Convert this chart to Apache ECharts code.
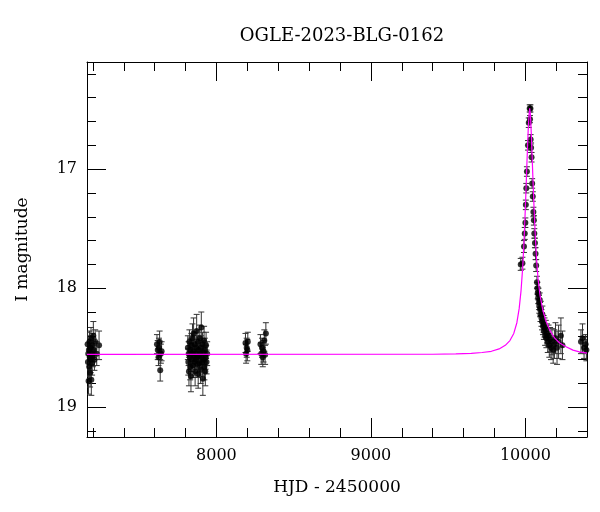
<!DOCTYPE html>
<html>
<head>
<meta charset="utf-8">
<script src="https://cdn.jsdelivr.net/npm/echarts@6/dist/echarts.min.js"></script>
<style>html,body{margin:0;padding:0;background:#fff;}#c{width:600px;height:512px;}</style>
</head>
<body>
<div id="c"></div>
<script>
// ---- Data ----
const obsHjd = [
  7166,7168,7170,7172,7174,7176,7178,7180,7182,7184,7186,7188,7190,7192,7195,7198,7200,7203,7206,7210,7215,7225,7240,
  7615,7620,7625,7628,7632,7636,7640,7645,
  7815,7818,7820,7822,7825,7828,7830,7832,7835,7838,7840,7843,7845,7848,7850,7852,7855,7858,7860,7862,7865,7868,7870,7872,7875,7878,7880,7882,7885,7888,7890,7892,7895,7898,7900,7902,7905,7908,7910,7912,7915,7918,7920,7922,7925,7928,7930,7933,7936,7940,
  8188,8192,8196,8200,8203,
  8285,8290,8295,8300,8305,8310,8315,8320,
  9970,9981,9991,9996,10000,10003,10006,10010,10017,10022,10028,10033,10030,10034,10037,10040,10044,10048,10052,10055,10058,10062,10066,10070,
  10075,10078,10080,10083,10085,10088,10090,10093,10095,10098,10100,10104,10108,10110,10114,10118,10120,10124,10128,10132,10136,10140,10145,10150,10155,10160,10166,10172,10180,10188,10195,10205,10215,10230,10240,
  10360,10370,10380,10390,10395
];
const obsMag = [
  18.47,18.62,18.55,18.78,18.52,18.66,18.45,18.58,18.71,18.50,18.60,18.42,18.77,18.55,18.63,18.48,18.57,18.40,18.52,18.60,18.45,18.55,18.48,
  18.47,18.52,18.58,18.50,18.45,18.69,18.55,18.53,
  18.50,18.62,18.55,18.70,18.45,18.58,18.66,18.52,18.74,18.48,18.60,18.55,18.42,18.65,18.53,18.38,18.57,18.62,18.47,18.70,18.55,18.60,18.50,18.36,18.58,18.64,18.45,18.72,18.52,18.57,18.63,18.42,18.55,18.68,18.50,18.33,18.58,18.62,18.47,18.76,18.54,18.60,18.44,18.66,18.52,18.70,18.58,18.48,18.62,18.55,
  18.46,18.55,18.50,18.52,18.45,
  18.47,18.55,18.50,18.58,18.53,18.44,18.56,18.38,
  17.80,17.79,17.65,17.54,17.45,17.30,17.16,17.02,16.80,16.61,16.49,16.49,16.58,16.75,16.82,16.90,17.12,17.23,17.36,17.43,17.54,17.62,17.71,17.81,
  17.95,18.00,18.04,18.08,18.05,18.12,18.15,18.10,18.18,18.22,18.17,18.25,18.28,18.22,18.32,18.30,18.36,18.33,18.40,18.35,18.42,18.38,18.45,18.40,18.48,18.43,18.50,18.45,18.52,18.47,18.42,18.50,18.45,18.40,18.48,
  18.45,18.42,18.50,18.47,18.52
];
const obsErr = [
  0.10,0.12,0.10,0.11,0.09,0.10,0.09,0.10,0.12,0.10,0.11,0.09,0.13,0.10,0.10,0.10,0.09,0.12,0.10,0.09,0.10,0.10,0.12,
  0.08,0.08,0.07,0.08,0.09,0.09,0.08,0.08,
  0.10,0.11,0.10,0.12,0.10,0.10,0.11,0.10,0.13,0.10,0.10,0.11,0.12,0.10,0.10,0.13,0.10,0.11,0.10,0.12,0.10,0.11,0.10,0.14,0.10,0.11,0.10,0.12,0.10,0.10,0.11,0.11,0.10,0.12,0.10,0.13,0.10,0.11,0.10,0.14,0.10,0.11,0.12,0.11,0.10,0.12,0.10,0.11,0.10,0.10,
  0.08,0.08,0.08,0.09,0.08,
  0.08,0.09,0.08,0.08,0.09,0.09,0.08,0.09,
  0.05,0.05,0.05,0.05,0.04,0.04,0.04,0.04,0.04,0.04,0.03,0.03,0.03,0.04,0.04,0.04,0.04,0.04,0.04,0.04,0.04,0.04,0.05,0.05,
  0.05,0.05,0.05,0.05,0.05,0.06,0.06,0.06,0.06,0.06,0.06,0.07,0.07,0.07,0.07,0.07,0.07,0.08,0.08,0.08,0.08,0.08,0.09,0.09,0.10,0.10,0.10,0.11,0.11,0.12,0.13,0.14,0.14,0.15,0.12,
  0.10,0.12,0.09,0.08,0.09
];
const modelHjd = [7162,9400,9550,9650,9720,9780,9830,9870,9900,9925,9945,9960,9972,9983,9993,10002,10010,10018,10024,10028,10032,10037,10043,10049,10056,10064,10072,10082,10095,10114,10135,10157,10190,10222,10260,10308,10350,10399];
const modelMag = [18.556,18.555,18.552,18.547,18.54,18.53,18.51,18.48,18.44,18.38,18.29,18.17,18.02,17.82,17.56,17.25,16.95,16.68,16.54,16.49,16.53,16.66,16.87,17.08,17.32,17.56,17.75,17.92,18.06,18.19,18.28,18.35,18.42,18.46,18.49,18.52,18.535,18.545];

const xMajor = [8000, 9000, 10000];
const xMinor = [7200,7400,7600,7800,8200,8400,8600,8800,9200,9400,9600,9800,10200];
const yMajor = [17, 18, 19];
const yMinor = [16.2,16.4,16.6,16.8,17.2,17.4,17.6,17.8,18.2,18.4,18.6,18.8,19.2];

const X_MIN = 7162, X_MAX = 10399, Y_MIN = 16.1, Y_MAX = 19.25;
const FONT = 'DejaVu Serif';

const obs = obsHjd.map((x, i) => [x, obsMag[i], obsErr[i]]);
const model = modelHjd.map((x, i) => [x, modelMag[i]]);

function xAx(pos, ticks, len, showLine, showLabel, extra) {
  return Object.assign({
    type: 'value', position: pos, min: X_MIN, max: X_MAX, gridIndex: 0,
    axisLine: { show: showLine, onZero: false, lineStyle: { color: '#000', width: 1 } },
    axisTick: { show: true, inside: true, length: len, customValues: ticks, lineStyle: { color: '#000', width: 1 } },
    axisLabel: { show: showLabel, customValues: ticks, formatter: v => String(v), color: '#000', fontFamily: FONT, fontSize: 16, margin: 11 },
    splitLine: { show: false }
  }, extra || {});
}
function yAx(pos, ticks, len, showLine, showLabel, extra) {
  return Object.assign({
    type: 'value', position: pos, min: Y_MIN, max: Y_MAX, inverse: true, gridIndex: 0,
    axisLine: { show: showLine, onZero: false, lineStyle: { color: '#000', width: 1 } },
    axisTick: { show: true, inside: true, length: len, customValues: ticks, lineStyle: { color: '#000', width: 1 } },
    axisLabel: { show: showLabel, customValues: ticks, formatter: v => String(v), color: '#000', fontFamily: FONT, fontSize: 16, margin: 10 },
    splitLine: { show: false }
  }, extra || {});
}

const chart = echarts.init(document.getElementById('c'), null, { renderer: 'canvas' });
chart.setOption({
  backgroundColor: '#fff',
  animation: false,
  title: {
    text: 'OGLE-2023-BLG-0162', left: 337, top: 22, textAlign: 'center',
    textStyle: { fontFamily: FONT, fontSize: 18, fontWeight: 'normal', color: '#000' }
  },
  grid: { left: 87, right: 13, top: 62, bottom: 75 },
  xAxis: [
    xAx('bottom', xMajor, 19, true, true, {
      name: 'HJD - 2450000', nameLocation: 'middle', nameGap: 42,
      nameTextStyle: { fontFamily: FONT, fontSize: 17, color: '#000' }
    }),
    xAx('bottom', xMinor, 9, false, false),
    xAx('top', xMajor, 19, true, false),
    xAx('top', xMinor, 9, false, false)
  ],
  yAxis: [
    yAx('left', yMajor, 19, true, true, {
      name: 'I magnitude', nameLocation: 'middle', nameGap: 56,
      nameTextStyle: { fontFamily: FONT, fontSize: 17, color: '#000' }
    }),
    yAx('left', yMinor, 9, false, false),
    yAx('right', yMajor, 19, true, false),
    yAx('right', yMinor, 9, false, false)
  ],
  series: [
    {
      type: 'custom', xAxisIndex: 0, yAxisIndex: 0, clip: true, z: 2,
      data: obs,
      encode: { x: 0, y: 1 },
      renderItem: function (params, api) {
        const x = api.value(0), y = api.value(1), e = api.value(2);
        const p1 = api.coord([x, y - e]);
        const p2 = api.coord([x, y + e]);
        const w = 3;
        const st = { stroke: '#333', lineWidth: 1 };
        return {
          type: 'group',
          children: [
            { type: 'line', shape: { x1: p1[0], y1: p1[1], x2: p2[0], y2: p2[1] }, style: st },
            { type: 'line', shape: { x1: p1[0] - w, y1: p1[1], x2: p1[0] + w, y2: p1[1] }, style: st },
            { type: 'line', shape: { x1: p2[0] - w, y1: p2[1], x2: p2[0] + w, y2: p2[1] }, style: st }
          ]
        };
      }
    },
    {
      type: 'scatter', xAxisIndex: 0, yAxisIndex: 0, z: 3,
      data: obs.map(d => [d[0], d[1]]),
      symbol: 'circle', symbolSize: 6,
      itemStyle: { color: '#000' }
    },
    {
      type: 'line', xAxisIndex: 0, yAxisIndex: 0, z: 4,
      data: model, showSymbol: false, smooth: false,
      lineStyle: { color: '#ff00ff', width: 1.2 }
    }
  ]
});
</script>
</body>
</html>
